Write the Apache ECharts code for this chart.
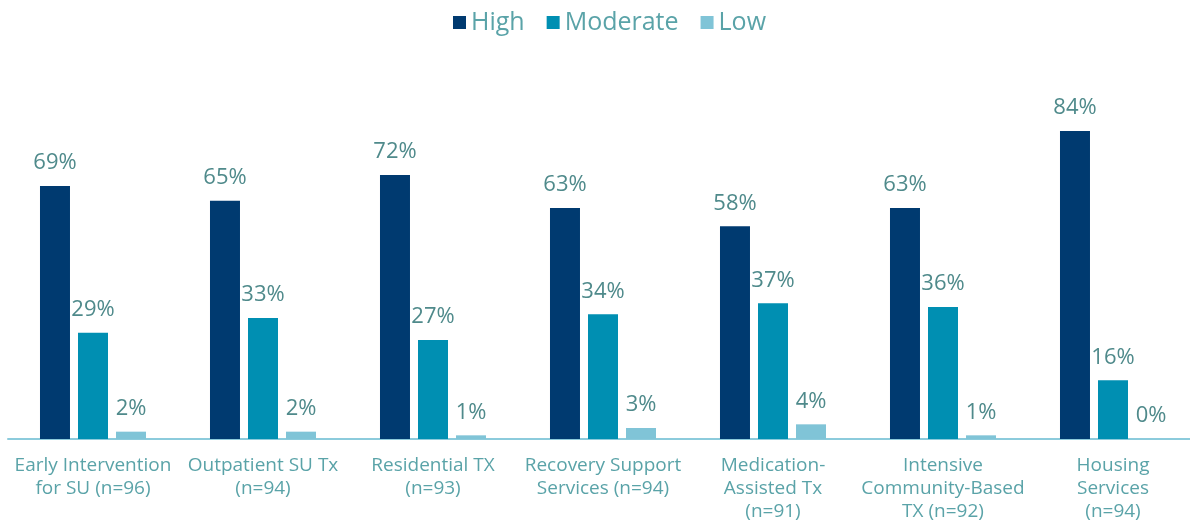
<!DOCTYPE html>
<html>
<head>
<meta charset="utf-8">
<script src="https://cdn.jsdelivr.net/npm/echarts@6/dist/echarts.min.js"></script>
<style>
  html, body { margin: 0; padding: 0; background: #fff; }
  #chart { width: 1190px; height: 523px; }
</style>
</head>
<body>
<div id="chart"></div>
<script>
const categories = [
  'Early Intervention\nfor SU (n=96)',
  'Outpatient SU Tx\n(n=94)',
  'Residential TX\n(n=93)',
  'Recovery Support\nServices (n=94)',
  'Medication-\nAssisted Tx\n(n=91)',
  'Intensive\nCommunity-Based\nTX (n=92)',
  'Housing\nServices\n(n=94)'
];
const highValues = [69, 65, 72, 63, 58, 63, 84];
const moderateValues = [29, 33, 27, 34, 37, 36, 16];
const lowValues = [2, 2, 1, 3, 4, 1, 0];

const fontFamily = '"Open Sans", "DejaVu Sans", sans-serif';
const valueColor = '#4f8a8b';
const axisTextColor = '#5aa3a8';

function barSeries(name, data, color) {
  return {
    name: name,
    type: 'bar',
    data: data,
    barWidth: 30,
    barGap: '26.7%',
    itemStyle: { color: color },
    label: {
      show: true,
      position: 'top',
      distance: 12,
      formatter: '{c}%',
      color: valueColor,
      fontSize: 22,
      fontFamily: fontFamily
    }
  };
}

const chart = echarts.init(document.getElementById('chart'));
chart.setOption({
  animation: false,
  legend: {
    top: 5,
    left: 448,
    itemWidth: 13,
    itemHeight: 13,
    itemGap: 22,
    icon: 'rect',
    textStyle: { color: axisTextColor, fontSize: 25, fontFamily: fontFamily }
  },
  grid: { left: 8, right: -8, top: 72.3, bottom: 84, outerBoundsMode: 'none', containLabel: false },
  xAxis: {
    type: 'category',
    data: categories,
    axisLine: { lineStyle: { color: '#8ccbdc', width: 2 } },
    axisTick: { show: false },
    axisLabel: {
      interval: 0,
      margin: 15,
      color: axisTextColor,
      fontSize: 19,
      lineHeight: 23,
      fontFamily: fontFamily
    }
  },
  yAxis: {
    type: 'value',
    min: 0,
    max: 100,
    show: false,
    splitLine: { show: false }
  },
  series: [
    barSeries('High', highValues, '#003a70'),
    barSeries('Moderate', moderateValues, '#008fb2'),
    barSeries('Low', lowValues, '#80c4d7')
  ]
});
</script>
</body>
</html>
